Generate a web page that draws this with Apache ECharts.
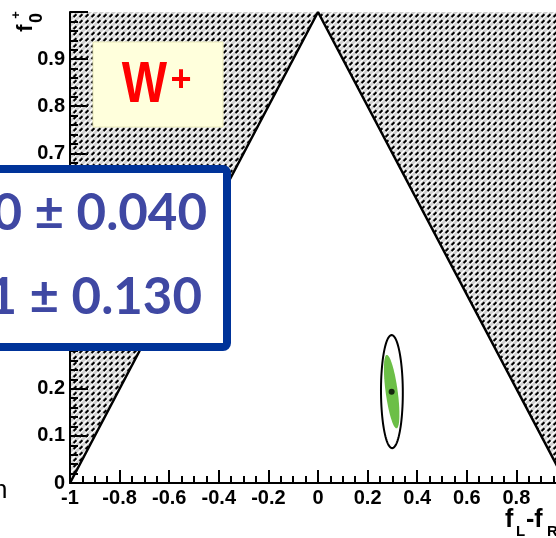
<!DOCTYPE html>
<html><head><meta charset="utf-8">
<script src="https://cdn.jsdelivr.net/npm/echarts@6/dist/echarts.min.js"></script>
<style>html,body{margin:0;padding:0;background:#fff;overflow:hidden}#c{width:566px;height:538px}</style>
</head><body><div id="c"></div>
<script>
// ---- data ----
const xRange = [-1, 1];
const yRange = [0, 1];
const triangle = [[-1, 0], [0, 1], [1, 0]];
const hatchLeft = [[-1, 0], [-1, 1], [0, 1]];
const hatchRight = [[0, 1], [1, 1], [1, 0]];
const bestFit = [[0.297, 0.194]];
const innerCenter = [0.297, 0.194];
const innerMajor = [-0.020, 0.078];
const innerMinor = [0.024, 0.002];
const outerCenter = [0.298, 0.194];
const outerMajor = [-0.001, 0.120];
const outerMinor = [0.044, 0.0];
const resultLines = ['0 \u00b1 0.040', '1 \u00b1 0.130'];
const boxLabel = 'W';
const boxSup = '+';

function makeHatch() {
  const c = document.createElement('canvas');
  c.width = 6; c.height = 6;
  const g = c.getContext('2d');
  g.fillStyle = '#cfcfcf'; g.fillRect(0, 0, 6, 6);
  g.strokeStyle = '#ffffff'; g.lineWidth = 1.4;
  g.beginPath();
  g.moveTo(-1, 4); g.lineTo(4, -1);
  g.moveTo(2, 7); g.lineTo(7, 2);
  g.stroke();
  g.strokeStyle = '#000'; g.lineWidth = 2;
  g.beginPath(); g.moveTo(1.6, 5); g.lineTo(4.4, 2.2); g.stroke();
  return c;
}
const hatch = { image: makeHatch(), repeat: 'repeat' };

function polySeries(poly) {
  return {
    type: 'custom', coordinateSystem: 'cartesian2d', clip: true, z: 1,
    data: [[poly[0][0], poly[0][1]]],
    renderItem: function (params, api) {
      return { type: 'polygon', shape: { points: poly.map(p => api.coord(p)) },
        style: { fill: hatch, stroke: null } };
    },
    silent: true
  };
}
function ellipseSeries(center, major, minor, style, z) {
  return {
    type: 'custom', coordinateSystem: 'cartesian2d', z: z, silent: true,
    data: [center],
    renderItem: function (params, api) {
      const cx = api.value(0), cy = api.value(1);
      const pts = [];
      for (let i = 0; i < 96; i++) {
        const t = i / 96 * Math.PI * 2;
        pts.push(api.coord([cx + Math.cos(t) * major[0] + Math.sin(t) * minor[0],
                            cy + Math.cos(t) * major[1] + Math.sin(t) * minor[1]]));
      }
      return { type: 'polygon', shape: { points: pts }, style: style };
    }
  };
}

const chart = echarts.init(document.getElementById('c'), null, { renderer: 'canvas', width: 566, height: 538 });
const lblFont = { fontFamily: 'Liberation Sans, Arial, sans-serif', fontWeight: 'bold', fontSize: 20, color: '#000' };
const blue = '#3f48a3';
chart.setOption({
  animation: false,
  backgroundColor: '#fff',
  grid: { left: 70, right: 0, top: 12, bottom: 55, containLabel: false },
  xAxis: {
    type: 'value', min: xRange[0], max: xRange[1], interval: 0.2, z: 5,
    axisLine: { show: true, onZero: false, lineStyle: { color: '#000', width: 2 } },
    axisTick: { show: true, inside: true, length: 13, lineStyle: { color: '#000', width: 2 } },
    minorTick: { show: true, splitNumber: 4, length: 7, lineStyle: { color: '#000', width: 2 } },
    splitLine: { show: false }, minorSplitLine: { show: false },
    axisLabel: Object.assign({ margin: 5, showMaxLabel: false }, lblFont)
  },
  yAxis: {
    type: 'value', min: yRange[0], max: yRange[1], interval: 0.1, z: 5,
    axisLine: { show: true, onZero: false, lineStyle: { color: '#000', width: 2 } },
    axisTick: { show: true, inside: true, length: 18, lineStyle: { color: '#000', width: 2 } },
    minorTick: { show: true, splitNumber: 5, length: 8, lineStyle: { color: '#000', width: 2 } },
    splitLine: { show: false }, minorSplitLine: { show: false },
    axisLabel: Object.assign({ margin: 5, showMaxLabel: false }, lblFont)
  },
  series: [
    polySeries(hatchLeft),
    polySeries(hatchRight),
    { type: 'line', data: triangle, symbol: 'none', z: 4, silent: true,
      lineStyle: { color: '#000', width: 2.5 } },
    ellipseSeries(outerCenter, outerMajor, outerMinor, { fill: '#fff', stroke: '#000', lineWidth: 2 }, 6),
    ellipseSeries(innerCenter, innerMajor, innerMinor, { fill: '#6cbf47', stroke: null }, 7),
    { type: 'scatter', data: bestFit, symbol: 'circle', symbolSize: 6, z: 8,
      itemStyle: { color: '#000' }, silent: true }
  ],
  graphic: [
    { type: 'rect', z: 100, shape: { x: -20, y: 169, width: 247, height: 178, r: 4 },
      style: { fill: '#fff', stroke: '#003399', lineWidth: 8 } },
    { type: 'text', z: 101, x: 207, y: 213.5,
      style: { text: resultLines[0], fill: blue, font: 'bold 51px Lato, sans-serif', textAlign: 'right', textVerticalAlign: 'middle' } },
    { type: 'text', z: 101, x: 202, y: 298,
      style: { text: resultLines[1], fill: blue, font: 'bold 51px Lato, sans-serif', textAlign: 'right', textVerticalAlign: 'middle' } },
    { type: 'rect', z: 100, shape: { x: 93, y: 42, width: 130, height: 85 },
      style: { fill: '#ffffdc', stroke: '#e8e8b8', lineWidth: 1 } },
    { type: 'text', z: 101, x: 144.5, y: 86, scaleY: 1.2,
      style: { text: boxLabel, fill: '#ff0000', font: 'bold 48px Liberation Sans, Arial, sans-serif', textAlign: 'center', textVerticalAlign: 'middle' } },
    { type: 'text', z: 101, x: 181, y: 81,
      style: { text: boxSup, fill: '#ff0000', font: 'bold 36px Liberation Sans, Arial, sans-serif', textAlign: 'center', textVerticalAlign: 'middle' } },
    // y axis title f0+
    { type: 'text', z: 50, x: 26, y: 28, rotation: Math.PI / 2,
      style: { text: 'f', fill: '#000', font: 'bold 22px Liberation Sans, Arial, sans-serif', textAlign: 'center', textVerticalAlign: 'middle' } },
    { type: 'text', z: 50, x: 37, y: 18, rotation: Math.PI / 2,
      style: { text: '0', fill: '#000', font: 'bold 18px Liberation Sans, Arial, sans-serif', textAlign: 'center', textVerticalAlign: 'middle' } },
    { type: 'text', z: 50, x: 16, y: 15, rotation: Math.PI / 2,
      style: { text: '+', fill: '#000', font: 'bold 13px Liberation Sans, Arial, sans-serif', textAlign: 'center', textVerticalAlign: 'middle' } },
    // x axis title fL - fR
    { type: 'text', z: 50, x: 505, y: 508,
      style: { text: 'f', fill: '#000', font: 'bold 25px Liberation Sans, Arial, sans-serif', textAlign: 'left', textVerticalAlign: 'top' } },
    { type: 'text', z: 50, x: 516, y: 524,
      style: { text: 'L', fill: '#000', font: 'bold 15px Liberation Sans, Arial, sans-serif', textAlign: 'left', textVerticalAlign: 'top' } },
    { type: 'text', z: 50, x: 526, y: 508,
      style: { text: '-f', fill: '#000', font: 'bold 25px Liberation Sans, Arial, sans-serif', textAlign: 'left', textVerticalAlign: 'top' } },
    { type: 'text', z: 50, x: 547, y: 524,
      style: { text: 'R', fill: '#000', font: 'bold 15px Liberation Sans, Arial, sans-serif', textAlign: 'left', textVerticalAlign: 'top' } },
    { type: 'text', z: 50, x: -7, y: 478,
      style: { text: 'n', fill: '#000', font: '26px Liberation Sans, Arial, sans-serif', textAlign: 'left', textVerticalAlign: 'top' } }
  ]
});
</script>
</body></html>
